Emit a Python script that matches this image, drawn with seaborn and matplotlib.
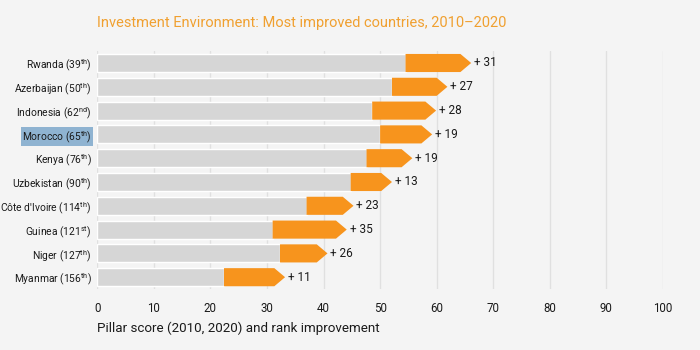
import numpy as np
import pandas as pd
import seaborn as sns
import matplotlib.pyplot as plt
from matplotlib.patches import Polygon

# Dados
paises = ["Rwanda", "Azerbaijan", "Indonesia", "Morocco", "Kenya",
          "Uzbekistan", "Côte d'Ivoire", "Guinea", "Niger", "Myanmar"]
ranks = ["39", "50", "62", "65", "76", "90", "114", "121", "127", "156"]
sufixos = ["th", "th", "nd", "th", "th", "th", "th", "st", "th", "th"]
score_2010 = [54.5, 52.1, 48.6, 50.0, 47.6, 44.8, 37.0, 31.0, 32.3, 22.4]
score_2020 = [66.1, 61.9, 59.9, 59.2, 55.7, 52.1, 45.3, 44.1, 40.7, 33.2]
melhoria = [31, 27, 28, 19, 19, 13, 23, 35, 26, 11]

rotulos = [f"{p} ({r}$^{{\\mathrm{{{s}}}}}$)" for p, r, s in zip(paises, ranks, sufixos)]
dados = pd.DataFrame({"pais": rotulos, "s2010": score_2010, "s2020": score_2020,
                      "melhoria": melhoria})

sns.set_style("white")
plt.rcParams['font.family'] = ['Roboto', 'DejaVu Sans']
plt.rcParams['mathtext.fontset'] = 'custom'
plt.rcParams['mathtext.rm'] = 'Roboto'

fundo = "#f4f4f4"
laranja = "#f7941d"
cinza = "#d6d6d6"

fig = plt.figure(figsize=(7, 3.5), dpi=100, facecolor=fundo)
ax = fig.add_axes([0.139, 0.174, 0.808, 0.680], facecolor=fundo)

sns.barplot(data=dados, x="s2010", y="pais", color=cinza, width=0.76,
            saturation=1, ax=ax, zorder=2)

# Setas laranja do valor de 2010 ate 2020
altura = 0.76
ponta = 1.9
for i, row in dados.iterrows():
    x0, x1 = row["s2010"], row["s2020"]
    xb = x1 - ponta
    pts = [(x0, i - altura / 2), (xb, i - altura / 2), (x1, i),
           (xb, i + altura / 2), (x0, i + altura / 2)]
    ax.add_patch(Polygon(pts, closed=True, facecolor=laranja, edgecolor="none", zorder=3))
    ax.text(x1 + 0.5, i, f"+ {row['melhoria']}", va="center", ha="left",
            fontsize=8.5, color="#1a1a1a", zorder=4)

ax.set_xlim(0, 100)
ax.set_ylim(9.5, -0.5)
ax.set_xticks(range(0, 101, 10))
ax.xaxis.grid(True, color="#e0e0e0", linewidth=1, zorder=0)
ax.set_axisbelow(True)
for s in ax.spines.values():
    s.set_visible(False)
ax.tick_params(axis="both", length=0, colors="#1a1a1a")
ax.tick_params(axis="x", pad=9, labelsize=8.3)
ax.tick_params(axis="y", pad=4, labelsize=7.4)
ax.set_ylabel("")
ax.set_xlabel("Pillar score (2010, 2020) and rank improvement", fontsize=9.6,
              color="#1a1a1a", loc="left", labelpad=5)

# Destaque do Marrocos (selecao azul)
for lbl in ax.get_yticklabels():
    if lbl.get_text().startswith("Morocco"):
        lbl.set_bbox(dict(facecolor="#8fb3d1", edgecolor="none", pad=1))

fig.text(0.139, 0.935, "Investment Environment: Most improved countries, 2010–2020",
         fontsize=10.5, color="#f0a030", ha="left", va="center")

plt.savefig("out.png", dpi=100, facecolor=fundo)
